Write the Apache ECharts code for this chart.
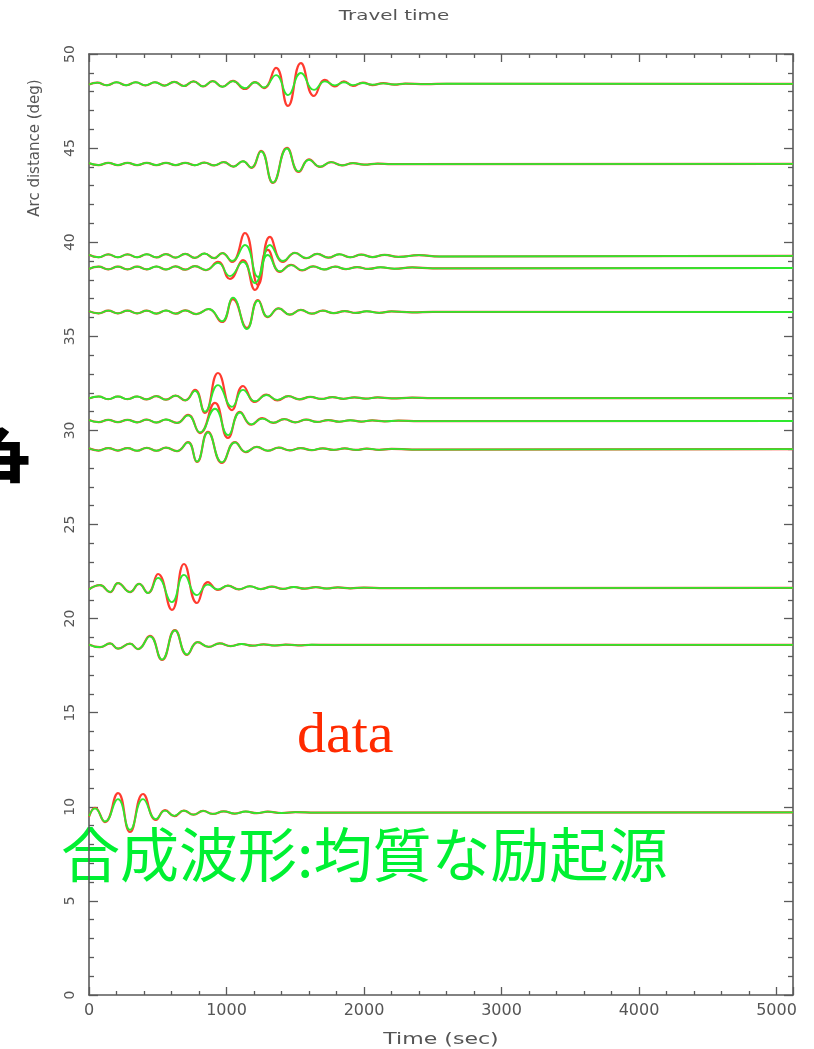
<!DOCTYPE html>
<html><head><meta charset="utf-8">
<script src="https://cdn.jsdelivr.net/npm/echarts@6/dist/echarts.min.js"></script>
<style>html,body{margin:0;padding:0;background:#fff}#c{width:814px;height:1049px}</style>
</head><body><div id="c"></div>
<script>
// ---- data (time in s, arc distance in deg) ----
const t1 = [0,60,130,200,270,340,410,480,550,620,690,760,830,900,970,1047,1134,1207,1272,1360,1447,1541,1636,1716,1789,1854,1919,1992,2060,2140,2220,2300,2450,2600,5120];
const r1 = [48.38,48.48,48.34,48.50,48.34,48.50,48.33,48.50,48.32,48.52,48.30,48.55,48.28,48.56,48.26,48.57,48.14,48.51,48.19,49.26,47.24,49.52,47.77,48.62,48.28,48.55,48.30,48.48,48.35,48.45,48.37,48.43,48.40,48.42,48.41];
const g1 = [48.38,48.48,48.34,48.50,48.34,48.50,48.33,48.50,48.32,48.52,48.30,48.55,48.28,48.56,48.26,48.56,48.18,48.50,48.22,48.88,47.82,48.99,48.09,48.55,48.33,48.50,48.35,48.46,48.37,48.44,48.38,48.43,48.40,48.42,48.41];

const t2 = [0,70,140,210,280,350,420,490,560,630,700,770,840,910,980,1050,1120,1180,1251,1338,1440,1525,1600,1680,1760,1840,1920,2000,2100,2200,5120];
const r2 = [44.20,44.10,44.22,44.10,44.22,44.10,44.22,44.10,44.22,44.10,44.22,44.09,44.23,44.08,44.25,44.02,44.30,43.95,44.85,43.15,45.01,43.73,44.40,44.00,44.25,44.08,44.20,44.12,44.18,44.15,44.16];
const g2 = [44.20,44.10,44.22,44.10,44.22,44.10,44.22,44.10,44.22,44.10,44.22,44.09,44.23,44.08,44.25,44.02,44.30,43.96,44.83,43.17,44.98,43.76,44.38,44.01,44.25,44.08,44.20,44.12,44.18,44.15,44.16];

const t3 = [0,70,140,210,280,350,420,490,560,630,700,770,840,910,970,1040,1134,1229,1316,1411,1498,1580,1660,1740,1820,1900,1980,2060,2150,2250,2400,2550,5120];
const r3 = [39.33,39.20,39.35,39.20,39.35,39.20,39.36,39.19,39.37,39.18,39.38,39.17,39.40,39.15,39.42,38.95,40.49,37.73,40.28,38.95,39.43,39.15,39.38,39.18,39.36,39.20,39.34,39.21,39.33,39.22,39.31,39.24,39.27];
const g3 = [39.33,39.20,39.35,39.20,39.35,39.20,39.36,39.19,39.37,39.18,39.38,39.17,39.40,39.15,39.42,39.00,39.85,38.15,39.85,39.00,39.43,39.15,39.38,39.18,39.36,39.20,39.34,39.21,39.33,39.22,39.31,39.24,39.27];

const t4 = [0,70,140,210,280,350,420,490,560,630,700,770,850,938,1025,1120,1207,1301,1389,1470,1550,1630,1710,1790,1870,1950,2030,2120,2220,2350,2500,5120];
const r4 = [38.58,38.70,38.56,38.70,38.56,38.70,38.56,38.71,38.55,38.72,38.54,38.73,38.52,38.95,38.05,39.05,37.46,39.59,38.42,38.80,38.50,38.72,38.55,38.70,38.57,38.68,38.58,38.67,38.59,38.66,38.61,38.63];
const g4 = [38.58,38.70,38.56,38.70,38.56,38.70,38.56,38.71,38.55,38.72,38.54,38.73,38.52,38.90,38.20,38.95,37.83,39.32,38.45,38.78,38.52,38.72,38.55,38.70,38.57,38.68,38.58,38.67,38.59,38.66,38.61,38.63];

const t5 = [0,70,140,210,280,350,420,490,560,630,700,780,870,967,1047,1149,1229,1301,1380,1460,1540,1620,1700,1780,1860,1940,2020,2110,2200,2350,2500,5120];
const r5 = [36.33,36.22,36.36,36.22,36.36,36.22,36.36,36.21,36.37,36.20,36.38,36.18,36.45,35.76,36.98,35.44,36.93,36.02,36.48,36.15,36.40,36.20,36.36,36.23,36.34,36.24,36.33,36.25,36.32,36.27,36.30,36.29];
const g5 = [36.33,36.22,36.36,36.22,36.36,36.22,36.36,36.21,36.37,36.20,36.38,36.18,36.45,35.80,37.05,35.38,36.90,36.04,36.48,36.15,36.40,36.20,36.36,36.23,36.34,36.24,36.33,36.25,36.32,36.27,36.30,36.29];

const t6 = [0,70,140,210,280,350,420,490,560,630,700,771,843,938,1040,1120,1207,1290,1370,1450,1530,1610,1690,1770,1850,1930,2010,2100,2200,2350,2500,5120];
const r6 = [31.70,31.80,31.66,31.80,31.66,31.80,31.65,31.82,31.63,31.85,31.60,32.15,30.93,33.05,31.08,32.36,31.51,31.90,31.60,31.82,31.65,31.78,31.67,31.77,31.68,31.76,31.69,31.75,31.70,31.74,31.71,31.72];
const g6 = [31.70,31.80,31.66,31.80,31.66,31.80,31.65,31.82,31.63,31.85,31.60,32.10,31.00,32.41,31.25,32.15,31.55,31.88,31.62,31.82,31.65,31.78,31.67,31.77,31.68,31.76,31.69,31.75,31.70,31.74,31.71,31.72];

const t7 = [0,70,140,210,280,350,420,490,560,640,720,807,916,1011,1098,1180,1260,1340,1420,1500,1580,1660,1740,1820,1900,1980,2060,2150,2250,2400,5120];
const r7 = [30.55,30.44,30.56,30.44,30.56,30.43,30.57,30.42,30.58,30.40,30.82,29.86,31.46,29.60,30.98,30.30,30.65,30.40,30.60,30.43,30.57,30.45,30.55,30.46,30.54,30.47,30.53,30.48,30.52,30.49,30.50];
const g7 = [30.55,30.44,30.56,30.44,30.56,30.43,30.57,30.42,30.58,30.40,30.80,29.90,31.15,29.75,30.95,30.32,30.63,30.41,30.60,30.43,30.57,30.45,30.55,30.46,30.54,30.47,30.53,30.48,30.52,30.49,30.50];

const t8 = [0,70,140,210,280,350,420,490,560,640,720,785,865,967,1062,1140,1220,1300,1380,1460,1540,1620,1700,1780,1860,1940,2020,2110,2200,2350,5120];
const r8 = [29.05,28.93,29.06,28.93,29.06,28.92,29.07,28.92,29.08,28.90,29.38,28.32,29.92,28.27,29.38,28.85,29.12,28.92,29.08,28.94,29.06,28.95,29.05,28.96,29.04,28.96,29.03,28.97,29.02,28.98,29.00];
const g8 = [29.05,28.93,29.06,28.93,29.06,28.92,29.07,28.92,29.08,28.90,29.36,28.34,29.90,28.30,29.36,28.86,29.12,28.92,29.08,28.94,29.06,28.95,29.05,28.96,29.04,28.96,29.03,28.97,29.02,28.98,29.00];

const t9 = [0,80,153,211,298,364,429,502,603,691,785,865,938,1010,1090,1170,1250,1330,1410,1490,1570,1650,1730,1810,1900,2000,2150,5120];
const r9 = [21.55,21.78,21.41,21.89,21.41,21.84,21.36,22.37,20.46,22.90,20.83,21.94,21.52,21.75,21.55,21.72,21.57,21.70,21.58,21.68,21.59,21.67,21.60,21.66,21.61,21.65,21.62,21.63];
const g9 = [21.55,21.78,21.41,21.89,21.41,21.84,21.36,22.16,20.88,22.32,21.25,21.80,21.55,21.75,21.55,21.72,21.57,21.70,21.58,21.68,21.59,21.67,21.60,21.66,21.61,21.65,21.62,21.63];

const t10 = [0,80,153,211,298,356,443,531,625,713,790,870,950,1030,1110,1190,1270,1350,1430,1520,1620,1750,5120];
const r10 = [18.62,18.48,18.68,18.40,18.67,18.38,19.08,17.80,19.39,18.07,18.75,18.50,18.68,18.54,18.65,18.56,18.63,18.57,18.62,18.58,18.61,18.60,18.60];
const g10 = [18.62,18.48,18.68,18.40,18.67,18.38,19.06,17.82,19.37,18.09,18.75,18.50,18.68,18.54,18.65,18.56,18.63,18.57,18.62,18.58,18.61,18.60,18.60];

const t11 = [0,44,116,211,298,393,487,553,620,690,760,830,900,980,1060,1140,1220,1300,1400,1500,1650,5120];
const r11 = [9.46,9.94,9.19,10.73,8.66,10.68,9.30,9.82,9.50,9.80,9.58,9.78,9.62,9.76,9.64,9.75,9.66,9.74,9.67,9.72,9.69,9.70];
const g11 = [9.50,9.92,9.22,10.41,8.77,10.41,9.35,9.80,9.52,9.80,9.58,9.78,9.62,9.76,9.64,9.75,9.66,9.74,9.67,9.72,9.69,9.70];

const xTickLabels = ['0','1000','2000','3000','4000','5000'];
const yTickLabels = ['0','5','10','15','20','25','30','35','40','45','50'];
const titleText = 'Travel time';
const xName = 'Time (sec)';
const yName = 'Arc distance (deg)';
const dataLabel = 'data';
const synthLabel = '合成波形:均質な励起源';
const edgeGlyph = '争';

const traces = [[t1,r1,g1],[t2,r2,g2],[t3,r3,g3],[t4,r4,g4],[t5,r5,g5],[t6,r6,g6],[t7,r7,g7],[t8,r8,g8],[t9,r9,g9],[t10,r10,g10],[t11,r11,g11]];

// ---- chart ----
const AX = '#5a5a5a';
const chart = echarts.init(document.getElementById('c'), null, {renderer:'canvas'});
const series = [];
traces.forEach(([t, r, g]) => {
  series.push({type:'line', data:t.map((x,i)=>[x,r[i]]), smooth:0.5, showSymbol:false, silent:true,
    lineStyle:{color:'#ff3b2f', width:2.2}, z:2});
});
traces.forEach(([t, r, g]) => {
  series.push({type:'line', data:t.map((x,i)=>[x,g[i]]), smooth:0.5, showSymbol:false, silent:true,
    lineStyle:{color:'#2ee82e', width:1.8}, z:3});
});

const xCommon = {type:'value', min:0, max:5120, interval:1000, splitLine:{show:false},
  axisLine:{onZero:false, lineStyle:{color:AX, width:1.6}},
  axisTick:{inside:true, length:8, lineStyle:{color:AX, width:1.3}},
  minorTick:{show:true, splitNumber:5, length:4, lineStyle:{color:AX, width:1.3}}};
const yCommon = {type:'value', min:0, max:50, interval:5, splitLine:{show:false},
  axisLine:{onZero:false, lineStyle:{color:AX, width:1.6}},
  axisTick:{inside:true, length:9, lineStyle:{color:AX, width:1.3}},
  minorTick:{show:true, splitNumber:5, length:5, lineStyle:{color:AX, width:1.3}}};

chart.setOption({
  animation:false,
  backgroundColor:'#fff',
  grid:{left:89, right:21, top:54, bottom:54},
  xAxis:[
    Object.assign({}, xCommon, {position:'bottom',
      axisLabel:{color:'#555', fontSize:16, fontFamily:'DejaVu Sans', margin:8, showMaxLabel:false,
        formatter:v => (v % 1000 === 0 ? xTickLabels[v/1000] : '')}}),
    Object.assign({}, xCommon, {position:'top', axisLabel:{show:false}})
  ],
  yAxis:[
    Object.assign({}, yCommon, {position:'left',
      axisLabel:{color:'#555', fontSize:14, fontFamily:'DejaVu Sans', rotate:90, margin:12,
        formatter:v => yTickLabels[v/5]}}),
    Object.assign({}, yCommon, {position:'right', axisLabel:{show:false}})
  ],
  series:series,
  graphic:[
    {type:'text', x:394, y:16, scaleX:1.42, style:{text:titleText, fill:'#555', font:'14px "DejaVu Sans"', align:'center', verticalAlign:'middle'}},
    {type:'text', x:441, y:1040, scaleX:1.47, style:{text:xName, fill:'#555', font:'15px "DejaVu Sans"', align:'center', verticalAlign:'middle'}},
    {type:'text', x:35, y:148, rotation:Math.PI/2, style:{text:yName, fill:'#555', font:'15px "DejaVu Sans"', align:'center', verticalAlign:'middle'}},
    {type:'text', x:297, y:737, style:{text:dataLabel, fill:'#ff2a00', font:'58px "Liberation Serif"', verticalAlign:'middle'}},
    {type:'text', x:61, y:855, style:{text:synthLabel, fill:'#00f032', font:'59px "Noto Sans CJK JP"', verticalAlign:'middle'}},
    {type:'text', x:31, y:419, style:{text:edgeGlyph, fill:'#000', font:'bold 80px "Noto Sans CJK JP"', align:'right', verticalAlign:'top'}}
  ]
});
</script></body></html>
